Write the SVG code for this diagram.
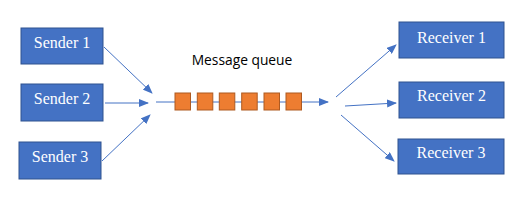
<svg xmlns="http://www.w3.org/2000/svg" width="527" height="207" viewBox="0 0 527 207">
<style>
.box{fill:#4472C4;stroke:#2F528F;stroke-width:1}
.lbl{font-family:"Liberation Serif",serif;font-size:16px;fill:#fff;text-anchor:middle}
.q{fill:#ED7D31;stroke:#AE5A21;stroke-width:1}
.c{stroke:#4472C4;stroke-width:1;fill:none;marker-end:url(#ah)}
</style>
<defs>
<marker id="ah" markerWidth="10" markerHeight="8" refX="9" refY="4" orient="auto" markerUnits="userSpaceOnUse">
<path d="M0,0 L10,4 L0,8 Z" fill="#4472C4"/>
</marker>
</defs>
<rect width="527" height="207" fill="#fff"/>
<g id="connectors">
<line class="c" x1="104" y1="47" x2="152" y2="93"/>
<line class="c" x1="105" y1="103" x2="148" y2="103"/>
<line class="c" x1="102" y1="161" x2="150" y2="115"/>
<line class="c" x1="156" y1="102" x2="328" y2="102"/>
<line class="c" x1="336" y1="97" x2="396" y2="45"/>
<line class="c" x1="345" y1="106" x2="396" y2="103"/>
<line class="c" x1="341" y1="115" x2="394" y2="161"/>
</g>
<g id="sender1"><rect class="box" x="21" y="28" width="82" height="36"/><text class="lbl" x="62" y="48">Sender 1</text></g>
<g id="sender2"><rect class="box" x="21" y="84" width="82" height="37"/><text class="lbl" x="62" y="104">Sender 2</text></g>
<g id="sender3"><rect class="box" x="19" y="142" width="82" height="37"/><text class="lbl" x="60" y="162">Sender 3</text></g>
<g id="queue">
<text x="242" y="65" font-family="'Open Sans','Liberation Sans',sans-serif" font-size="13.8" text-anchor="middle" fill="#000">Message queue</text>
<rect class="q" x="175" y="93" width="15.5" height="17"/>
<rect class="q" x="197.3" y="93" width="15.5" height="17"/>
<rect class="q" x="219.3" y="93" width="15.5" height="17"/>
<rect class="q" x="241.7" y="93" width="15.5" height="17"/>
<rect class="q" x="264" y="93" width="15.5" height="17"/>
<rect class="q" x="286" y="93" width="15.5" height="17"/>
</g>
<g id="receiver1"><rect class="box" x="399" y="22" width="105" height="36"/><text class="lbl" x="451.5" y="43">Receiver 1</text></g>
<g id="receiver2"><rect class="box" x="399" y="82" width="105" height="36"/><text class="lbl" x="451.5" y="101">Receiver 2</text></g>
<g id="receiver3"><rect class="box" x="398" y="139" width="106" height="35"/><text class="lbl" x="451" y="158">Receiver 3</text></g>
</svg>
